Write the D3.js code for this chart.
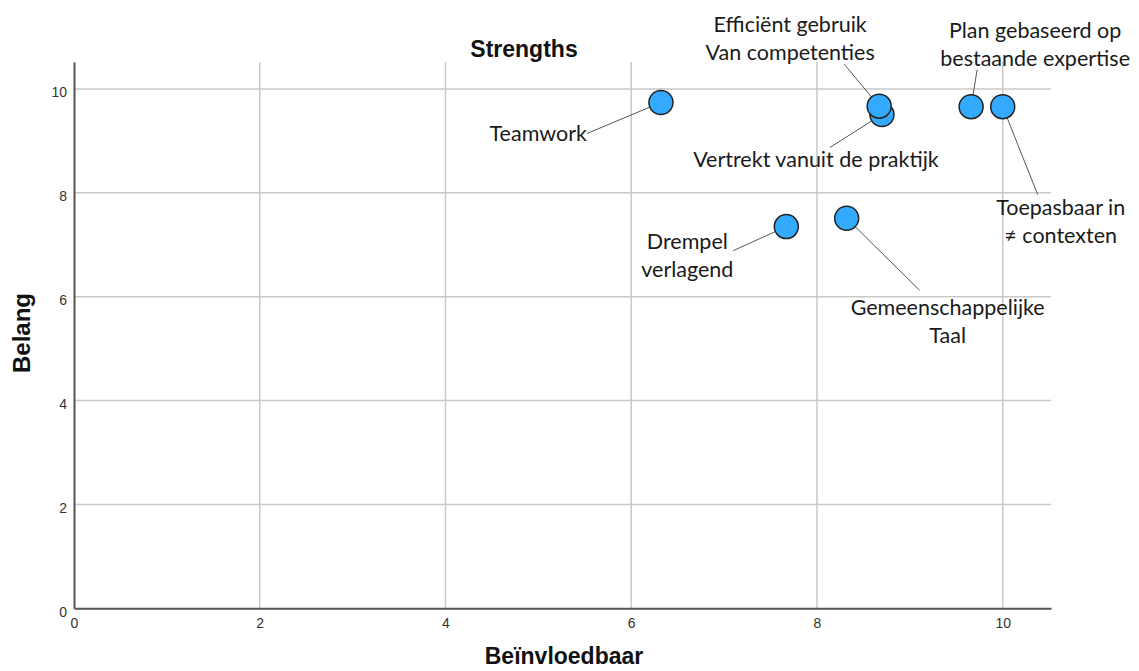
<!DOCTYPE html>
<html><head><meta charset="utf-8">
<script src="https://cdn.jsdelivr.net/npm/d3@7"></script>
<style>html,body{margin:0;padding:0;background:#fff;}</style>
</head><body>
<svg id="c" width="1139" height="671"></svg>
<script>
// ---- data ----
const names = ["Teamwork","Vertrekt vanuit de praktijk","Efficiënt gebruik\nVan competenties","Plan gebaseerd op\nbestaande expertise","Toepasbaar in\n≠ contexten","Drempel\nverlagend","Gemeenschappelijke\nTaal"];
const xValues = [6.32, 8.70, 8.67, 9.66, 10.0, 7.67, 8.32];
const yValues = [9.74, 9.51, 9.67, 9.66, 9.66, 7.35, 7.51];
const xTicks = [0,2,4,6,8,10];
const yTicks = [0,2,4,6,8,10];
const title = "Strengths", xTitle = "Beïnvloedbaar", yTitle = "Belang";

// ---- layout (pixel offsets of labels relative to their point) ----
const labelLayout = [
  {dx:-74, dy:38, anchor:"end", lx:-74, ly:31},
  {dx:-66, dy:53, anchor:"middle", lx:-52, ly:33},
  {dx:-89, dy:-74, anchor:"middle", lx:-35, ly:-42},
  {dx:64, dy:-69, anchor:"middle", lx:6, ly:-37},
  {dx:58, dy:108, anchor:"middle", lx:35, ly:88},
  {dx:-99, dy:22, anchor:"middle", lx:-53, ly:24},
  {dx:101, dy:97, anchor:"middle", lx:73, ly:72}
];

const svg = d3.select("#c");
const L = 74, R = 1051, T = 62, B = 608.3;
const x = d3.scaleLinear().domain([0, 10.52]).range([L, R]);
const y = d3.scaleLinear().domain([0, 10.52]).range([B, T]);

// grid
const g = svg.append("g");
g.selectAll(".vx").data(xTicks.filter(d=>d>0)).join("line")
  .attr("x1", d=>x(d)).attr("x2", d=>x(d)).attr("y1", T).attr("y2", B)
  .attr("stroke", "#c9c9c9").attr("stroke-width", 1.5);
g.selectAll(".hy").data(yTicks.filter(d=>d>0)).join("line")
  .attr("x1", L).attr("x2", R).attr("y1", d=>y(d)).attr("y2", d=>y(d))
  .attr("stroke", "#c9c9c9").attr("stroke-width", 1.5);

// axes
const xa = svg.append("g").attr("transform", `translate(0,${B})`)
  .call(d3.axisBottom(x).tickValues(xTicks).tickSize(0).tickPadding(10).tickFormat(d3.format("d")));
const ya = svg.append("g").attr("transform", `translate(${L},0)`)
  .call(d3.axisLeft(y).tickValues(yTicks).tickSize(0).tickPadding(7).tickFormat(d3.format("d")));
[xa, ya].forEach(a => {
  a.select(".domain").attr("stroke", "#555").attr("stroke-width", 2);
  a.selectAll("text").attr("font-family", "Liberation Sans, Arial, sans-serif")
    .attr("font-size", 14).attr("fill", "#333");
});
ya.selectAll("text").attr("dy", "0.55em");

// titles
svg.append("text").attr("x", 524).attr("y", 57).attr("text-anchor", "middle")
  .attr("font-family", "Liberation Sans, Arial, sans-serif").attr("font-weight", "bold")
  .attr("font-size", 23).attr("fill", "#111").text(title);
svg.append("text").attr("x", 564).attr("y", 664).attr("text-anchor", "middle")
  .attr("font-family", "Liberation Sans, Arial, sans-serif").attr("font-weight", "bold")
  .attr("font-size", 23).attr("fill", "#111").text(xTitle);
svg.append("text").attr("transform", "translate(30,333) rotate(-90)").attr("text-anchor", "middle")
  .attr("font-family", "Liberation Sans, Arial, sans-serif").attr("font-weight", "bold")
  .attr("font-size", 24).attr("fill", "#111").text(yTitle);

const pts = names.map((n,i) => ({name:n, x:xValues[i], y:yValues[i], lay:labelLayout[i]}));

// leader lines
svg.append("g").selectAll("line").data(pts).join("line")
  .attr("x1", d=>x(d.x)).attr("y1", d=>y(d.y))
  .attr("x2", d=>x(d.x)+d.lay.lx).attr("y2", d=>y(d.y)+d.lay.ly)
  .attr("stroke", "#555").attr("stroke-width", 1);

// points
svg.append("g").selectAll("circle").data(pts).join("circle")
  .attr("cx", d=>x(d.x)).attr("cy", d=>y(d.y)).attr("r", 12)
  .attr("fill", "#33aaff").attr("stroke", "#222").attr("stroke-width", 1.5);

// labels
const lab = svg.append("g").selectAll("text").data(pts).join("text")
  .attr("font-family", "Lato, 'Open Sans', sans-serif").attr("font-size", 21.5).attr("fill", "#1a1a1a")
  .attr("text-anchor", d=>d.lay.anchor)
  .attr("x", d=>x(d.x)+d.lay.dx).attr("y", d=>y(d.y)+d.lay.dy);
lab.each(function(d){
  const lines = d.name.split("\n");
  d3.select(this).selectAll("tspan").data(lines).join("tspan")
    .attr("x", x(d.x)+d.lay.dx).attr("dy", (l,i)=> i===0?0:28).text(l=>l);
});
</script>
</body></html>
